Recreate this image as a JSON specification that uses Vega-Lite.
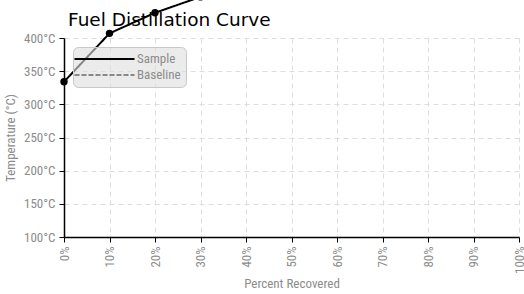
{
  "$schema": "https://vega.github.io/schema/vega-lite/v6.json",
  "autosize": "none",
  "width": 455,
  "height": 199,
  "padding": {"left": 64, "top": 38, "right": 5, "bottom": 57},
  "background": "white",
  "title": {
    "text": "Fuel Distillation Curve",
    "anchor": "start",
    "frame": "group",
    "dx": 4,
    "offset": -37,
    "font": "DejaVu Sans",
    "fontSize": 18.5,
    "fontWeight": "normal",
    "color": "#000"
  },
  "data": {
    "values": [
      {"pct": 0, "temp": 334, "series": "Sample"},
      {"pct": 10, "temp": 407, "series": "Sample"},
      {"pct": 20, "temp": 438, "series": "Sample"},
      {"pct": 30, "temp": 462, "series": "Sample"}
    ]
  },
  "config": {
    "view": {"stroke": null},
    "axis": {
      "labelFont": "Roboto Condensed, Liberation Sans Narrow, DejaVu Sans Condensed, sans-serif",
      "titleFont": "Roboto Condensed, Liberation Sans Narrow, DejaVu Sans Condensed, sans-serif",
      "labelColor": "#8c8c8c",
      "titleColor": "#8c8c8c",
      "labelFontSize": 13,
      "titleFontSize": 13,
      "titleFontWeight": "normal",
      "labelOverlap": false,
      "domainColor": "#000",
      "domainWidth": 1.5,
      "tickColor": "#000",
      "tickSize": 5,
      "gridColor": "#dddddd",
      "gridDash": [5, 4]
    },
    "legend": {
      "labelFont": "Roboto Condensed, Liberation Sans Narrow, DejaVu Sans Condensed, sans-serif",
      "labelColor": "#8c8c8c",
      "labelFontSize": 13
    }
  },
  "layer": [
    {
      "mark": {"type": "line", "strokeWidth": 2, "clip": false},
      "encoding": {
        "x": {
          "field": "pct", "type": "quantitative",
          "scale": {"domain": [0, 100], "nice": false},
          "axis": {
            "title": "Percent Recovered",
            "values": [0, 10, 20, 30, 40, 50, 60, 70, 80, 90, 100],
            "tickCount": 11,
            "labelExpr": "datum.value + '%'",
            "labelAngle": -90,
            "labelAlign": "right",
            "labelBaseline": "middle",
            "labelOverlap": false,
            "labelPadding": 4,
            "titlePadding": 4
          }
        },
        "y": {
          "field": "temp", "type": "quantitative",
          "scale": {"domain": [100, 400], "nice": false, "zero": false},
          "axis": {
            "title": "Temperature (°C)",
            "values": [100, 150, 200, 250, 300, 350, 400],
            "tickCount": 7,
            "labelExpr": "datum.value + '°C'",
            "labelOverlap": false,
            "labelPadding": 4,
            "titlePadding": 6
          }
        },
        "color": {
          "field": "series", "type": "nominal",
          "scale": {"domain": ["Sample", "Baseline"], "range": ["#000", "#888"]},
          "legend": {
            "title": null,
            "orient": "none",
            "legendX": 9,
            "legendY": 9,
            "symbolType": "M-1.75,0H8.25",
            "symbolSize": 144,
            "symbolStrokeWidth": 2,
            "fillColor": "rgba(222,222,222,0.6)",
            "strokeColor": "#c8c8c8",
            "cornerRadius": 5,
            "padding": 5,
            "rowPadding": 2,
            "labelOffset": 45,
            "labelExpr": "datum.label + '\u00a0\u00a0\u00a0\u00a0'"
          }
        },
        "strokeDash": {
          "field": "series", "type": "nominal",
          "scale": {"domain": ["Sample", "Baseline"], "range": [[1, 0], [5, 2]]},
          "legend": {
            "title": null,
            "orient": "none",
            "legendX": 9,
            "legendY": 9,
            "symbolType": "M-1.75,0H8.25",
            "symbolSize": 144,
            "symbolStrokeWidth": 2,
            "fillColor": "rgba(222,222,222,0.6)",
            "strokeColor": "#c8c8c8",
            "cornerRadius": 5,
            "padding": 5,
            "rowPadding": 2,
            "labelOffset": 45,
            "labelExpr": "datum.label + '\u00a0\u00a0\u00a0\u00a0'"
          }
        }
      }
    },
    {
      "mark": {"type": "circle", "size": 55, "opacity": 1, "color": "#000", "clip": false},
      "encoding": {
        "x": {"field": "pct", "type": "quantitative"},
        "y": {"field": "temp", "type": "quantitative"}
      }
    }
  ]
}
